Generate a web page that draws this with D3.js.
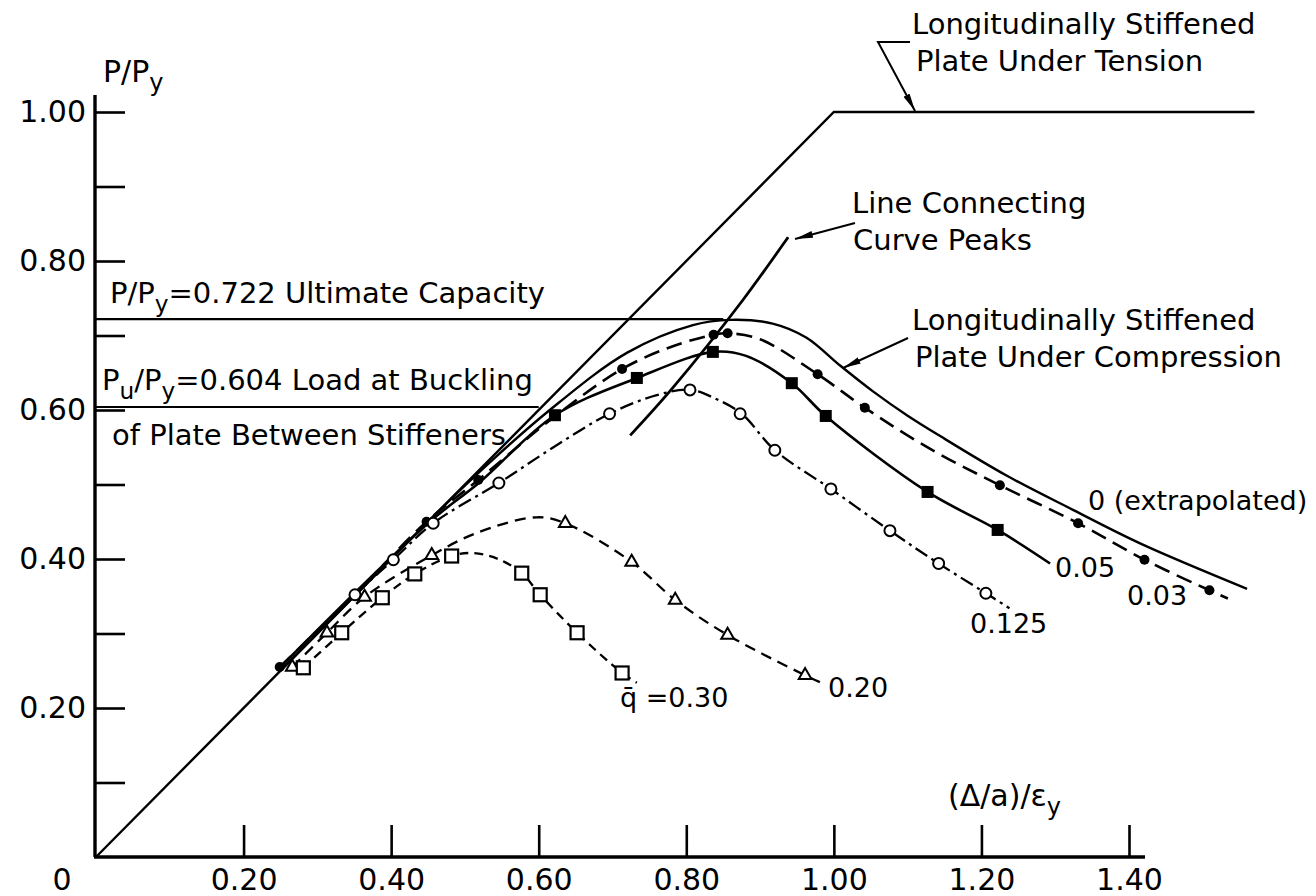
<!DOCTYPE html>
<html><head><meta charset="utf-8">
<script src="https://cdn.jsdelivr.net/npm/d3@7"></script>
<style>html,body{margin:0;padding:0;background:#fff}svg{display:block}text{font-family:"DejaVu Sans",sans-serif;fill:#000}</style>
</head><body><div id="chart"></div>
<script>
// ---------------- data ----------------
const xTickValues = [0.2, 0.4, 0.6, 0.8, 1.0, 1.2, 1.4];
const yTickValues = [0.1, 0.2, 0.3, 0.4, 0.5, 0.6, 0.7, 0.8, 0.9, 1.0];
const yLabelValues = [0.2, 0.4, 0.6, 0.8, 1.0];

const tensionLine = [[0, 0], [1.0, 1.0], [1.57, 1.0]];
const ultimateLevel = 0.722;   // P/Py ultimate capacity
const ultimateEndX = 0.85;
const bucklingLevel = 0.604;   // Pu/Py buckling
const bucklingEndX = 0.60;

const curve0 = [[0.25,0.25],[0.35,0.35],[0.45,0.45],[0.51,0.508],[0.615,0.60],[0.72,0.677],[0.809,0.714],[0.86,0.721],[0.917,0.716],[0.963,0.697],[1.008,0.66],[1.053,0.625],[1.099,0.593],[1.144,0.565],[1.234,0.512],[1.324,0.466],[1.415,0.421],[1.56,0.36]];

const curve003 = [[0.249,0.255],[0.35,0.352],[0.448,0.45],[0.518,0.506],[0.62,0.59],[0.713,0.655],[0.78,0.685],[0.837,0.701],[0.856,0.703],[0.9,0.695],[0.978,0.648],[1.042,0.603],[1.13,0.548],[1.225,0.499],[1.331,0.448],[1.421,0.399],[1.509,0.358],[1.534,0.347]];
const marks003 = [[0.249,0.255],[0.448,0.45],[0.518,0.506],[0.713,0.655],[0.837,0.701],[0.856,0.703],[0.978,0.648],[1.042,0.603],[1.225,0.499],[1.331,0.448],[1.421,0.399],[1.509,0.358]];

const curve005 = [[0.25,0.255],[0.45,0.448],[0.52,0.503],[0.622,0.593],[0.733,0.643],[0.836,0.678],[0.88,0.673],[0.943,0.636],[0.989,0.592],[1.127,0.49],[1.222,0.439],[1.293,0.394]];
const marks005 = [[0.622,0.593],[0.733,0.643],[0.836,0.678],[0.943,0.636],[0.989,0.592],[1.127,0.49],[1.222,0.439]];

const curve0125 = [[0.25,0.25],[0.351,0.352],[0.403,0.399],[0.457,0.448],[0.546,0.502],[0.62,0.55],[0.696,0.595],[0.76,0.62],[0.805,0.627],[0.84,0.615],[0.875,0.595],[0.92,0.546],[0.996,0.494],[1.076,0.438],[1.142,0.394],[1.206,0.354],[1.238,0.334]];
const marks0125 = [[0.351,0.352],[0.403,0.399],[0.457,0.448],[0.546,0.502],[0.696,0.595],[0.805,0.627],[0.873,0.595],[0.92,0.546],[0.996,0.494],[1.076,0.438],[1.142,0.394],[1.206,0.354]];

const curve020 = [[0.266,0.255],[0.313,0.301],[0.364,0.349],[0.455,0.405],[0.516,0.435],[0.597,0.456],[0.636,0.448],[0.726,0.396],[0.785,0.345],[0.856,0.298],[0.961,0.244],[0.985,0.233]];
const marks020 = [[0.266,0.255],[0.313,0.301],[0.364,0.349],[0.455,0.405],[0.636,0.448],[0.726,0.396],[0.785,0.345],[0.856,0.298],[0.961,0.244]];

const curve030 = [[0.281,0.254],[0.333,0.301],[0.388,0.348],[0.432,0.38],[0.482,0.404],[0.51,0.408],[0.545,0.40],[0.577,0.381],[0.602,0.352],[0.652,0.301],[0.713,0.247],[0.733,0.234]];
const marks030 = [[0.281,0.254],[0.333,0.301],[0.388,0.348],[0.432,0.38],[0.482,0.404],[0.577,0.381],[0.602,0.352],[0.652,0.301],[0.713,0.247]];

const peaksLine = [[0.724,0.566],[0.781,0.629],[0.877,0.748],[0.938,0.832]];

// ---------------- chart ----------------
const W = 1316, H = 896;
const svg = d3.select("#chart").append("svg").attr("width", W).attr("height", H);
svg.append("rect").attr("width", W).attr("height", H).attr("fill", "#fff");

const x = d3.scaleLinear().domain([0, 1.4]).range([96, 1129]);
const y = d3.scaleLinear().domain([0, 1]).range([857, 112]);

const defs = svg.append("defs");
defs.append("marker").attr("id", "arr").attr("viewBox", "0 0 18 8")
  .attr("refX", 18).attr("refY", 4).attr("markerWidth", 18).attr("markerHeight", 8)
  .attr("markerUnits", "userSpaceOnUse").attr("orient", "auto")
  .append("path").attr("d", "M0,0.6 L18,4 L0,7.4 Z").attr("fill", "#000");

// axes lines
svg.append("line").attr("x1", 95).attr("x2", 95).attr("y1", 95).attr("y2", y(0))
  .attr("stroke", "#000").attr("stroke-width", 3.4);
svg.append("line").attr("x1", 94).attr("x2", 1145).attr("y1", y(0)).attr("y2", y(0))
  .attr("stroke", "#000").attr("stroke-width", 3.4);

const fmt = d3.format(".2f");
const yAxis = d3.axisLeft(y).tickValues(yTickValues).tickSize(-30).tickPadding(9)
  .tickFormat(d => yLabelValues.some(v => Math.abs(v - d) < 1e-9) ? fmt(d) : "");
const gy = svg.append("g").attr("transform", "translate(95,0)").call(yAxis);
gy.select(".domain").remove();
gy.selectAll(".tick line").attr("stroke", "#000").attr("stroke-width", 2.6);
gy.selectAll(".tick text").attr("font-size", 30).attr("font-family", "DejaVu Sans");

const xAxis = d3.axisBottom(x).tickValues(xTickValues).tickSize(-32).tickPadding(12).tickFormat(fmt);
const gx = svg.append("g").attr("transform", `translate(0,${y(0)})`).call(xAxis);
gx.select(".domain").remove();
gx.selectAll(".tick line").attr("stroke", "#000").attr("stroke-width", 2.6);
gx.selectAll(".tick text").attr("font-size", 30).attr("font-family", "DejaVu Sans");

svg.append("text").attr("x", 62).attr("y", 890).attr("text-anchor", "middle")
  .attr("font-size", 30).text("0");

// reference horizontal lines
svg.append("line").attr("x1", 95).attr("x2", x(ultimateEndX)).attr("y1", y(ultimateLevel)).attr("y2", y(ultimateLevel))
  .attr("stroke", "#000").attr("stroke-width", 2.2);
svg.append("line").attr("x1", 95).attr("x2", x(bucklingEndX)).attr("y1", y(bucklingLevel)).attr("y2", y(bucklingLevel))
  .attr("stroke", "#000").attr("stroke-width", 2.2);

const lineStraight = d3.line().x(d => x(d[0])).y(d => y(d[1]));
const lineSmooth = d3.line().x(d => x(d[0])).y(d => y(d[1])).curve(d3.curveCatmullRom.alpha(0.5));

svg.append("path").datum(tensionLine).attr("d", lineStraight).attr("fill", "none")
  .attr("stroke", "#000").attr("stroke-width", 2.4);

function drawCurve(data, dash, width) {
  svg.append("path").datum(data).attr("d", lineSmooth).attr("fill", "none")
    .attr("stroke", "#000").attr("stroke-width", width || 2.4)
    .attr("stroke-dasharray", dash || null);
}
drawCurve(curve0, null, 2.4);
drawCurve(curve003, "16,8", 2.6);
drawCurve(curve005, null, 2.6);
drawCurve(curve0125, "14,5,3,5", 2.3);
drawCurve(curve020, "11,7", 2.3);
drawCurve(curve030, "9,6", 2.3);
drawCurve(peaksLine, null, 2.8);

// markers
svg.append("g").selectAll("circle").data(marks003).join("circle")
  .attr("cx", d => x(d[0])).attr("cy", d => y(d[1])).attr("r", 5).attr("fill", "#000");
svg.append("g").selectAll("rect").data(marks005).join("rect")
  .attr("x", d => x(d[0]) - 6).attr("y", d => y(d[1]) - 6).attr("width", 12).attr("height", 12).attr("fill", "#000");
svg.append("g").selectAll("circle").data(marks0125).join("circle")
  .attr("cx", d => x(d[0])).attr("cy", d => y(d[1])).attr("r", 5.5).attr("fill", "#fff")
  .attr("stroke", "#000").attr("stroke-width", 2);
const tri = d3.symbol().type(d3.symbolTriangle).size(70);
svg.append("g").selectAll("path").data(marks020).join("path")
  .attr("d", tri).attr("transform", d => `translate(${x(d[0])},${y(d[1])})`)
  .attr("fill", "#fff").attr("stroke", "#000").attr("stroke-width", 2);
svg.append("g").selectAll("rect").data(marks030).join("rect")
  .attr("x", d => x(d[0]) - 6.5).attr("y", d => y(d[1]) - 6.5).attr("width", 13).attr("height", 13)
  .attr("fill", "#fff").attr("stroke", "#000").attr("stroke-width", 2.2);

// text helper with subscripts
function rich(xp, yp, parts, size) {
  const t = svg.append("text").attr("x", xp).attr("y", yp).attr("font-size", size);
  let shifted = 0;
  parts.forEach(p => {
    const ts = t.append("tspan").text(p.t);
    if (p.sub) { ts.attr("dy", 9 - shifted).attr("font-size", size * 0.8); shifted = 9; }
    else { if (shifted) ts.attr("dy", -shifted); shifted = 0; }
  });
  return t;
}

rich(103, 82, [{t:"P/P"},{t:"y",sub:true}], 30);
rich(948, 806, [{t:"(Δ/a)/ε"},{t:"y",sub:true}], 30);
rich(110, 303, [{t:"P/P"},{t:"y",sub:true},{t:"=0.722 Ultimate Capacity"}], 29);
rich(102, 390, [{t:"P"},{t:"u",sub:true},{t:"/P"},{t:"y",sub:true},{t:"=0.604 Load at Buckling"}], 29);
svg.append("text").attr("x", 112).attr("y", 445).attr("font-size", 29).text("of Plate Between Stiffeners");

svg.append("text").attr("x", 912).attr("y", 34).attr("font-size", 29).text("Longitudinally Stiffened");
svg.append("text").attr("x", 916).attr("y", 71).attr("font-size", 29).text("Plate Under Tension");
svg.append("polyline").attr("points", `910,42 878,42 ${x(1.11)},${y(1.0) - 1}`)
  .attr("fill", "none").attr("stroke", "#000").attr("stroke-width", 2).attr("marker-end", "url(#arr)");

svg.append("text").attr("x", 852).attr("y", 213).attr("font-size", 29).text("Line Connecting");
svg.append("text").attr("x", 853).attr("y", 250).attr("font-size", 29).text("Curve Peaks");
svg.append("line").attr("x1", 855).attr("y1", 223).attr("x2", 795).attr("y2", 239)
  .attr("stroke", "#000").attr("stroke-width", 2).attr("marker-end", "url(#arr)");

svg.append("text").attr("x", 912).attr("y", 330).attr("font-size", 29).text("Longitudinally Stiffened");
svg.append("text").attr("x", 915).attr("y", 367).attr("font-size", 29).text("Plate Under Compression");
svg.append("line").attr("x1", 908).attr("y1", 338).attr("x2", 843).attr("y2", 368)
  .attr("stroke", "#000").attr("stroke-width", 2).attr("marker-end", "url(#arr)");

svg.append("text").attr("x", 1088).attr("y", 510).attr("font-size", 27).text("0 (extrapolated)");
svg.append("text").attr("x", 1055).attr("y", 577).attr("font-size", 27).text("0.05");
svg.append("text").attr("x", 1127).attr("y", 605).attr("font-size", 27).text("0.03");
svg.append("text").attr("x", 970).attr("y", 633).attr("font-size", 27).text("0.125");
svg.append("text").attr("x", 828).attr("y", 697).attr("font-size", 27).text("0.20");
svg.append("text").attr("x", 620).attr("y", 707).attr("font-size", 27).text("q̄ =0.30");
</script></body></html>
